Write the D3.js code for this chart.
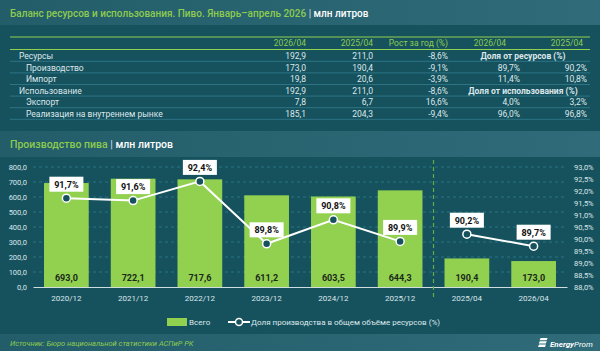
<!DOCTYPE html>
<html>
<head>
<meta charset="utf-8">
<script src="https://cdn.jsdelivr.net/npm/d3@7"></script>
<style>
  html, body { margin: 0; padding: 0; background: #16525e; }
  svg { display: block; font-family: Roboto, "Open Sans", sans-serif; }
</style>
</head>
<body>
<script>
// table data
const tableHeaders = ["2026/04", "2025/04", "Рост за год (%)", "2026/04", "2025/04"];
const rowLabels = ["Ресурсы", "Производство", "Импорт", "Использование", "Экспорт", "Реализация на внутреннем рынке"];
const rowIndent = [0, 1, 1, 0, 1, 1];
const col2026 = ["192,9", "173,0", "19,8", "192,9", "7,8", "185,1"];
const col2025 = ["211,0", "190,4", "20,6", "211,0", "6,7", "204,3"];
const colGrowth = ["-8,6%", "-9,1%", "-3,9%", "-8,6%", "16,6%", "-9,4%"];
const colShare2026 = [null, "89,7%", "11,4%", null, "4,0%", "96,0%"];
const colShare2025 = [null, "90,2%", "10,8%", null, "3,2%", "96,8%"];
const shareCaptions = ["Доля от ресурсов (%)", null, null, "Доля от использования (%)", null, null];

// chart data
const categories = ["2020/12", "2021/12", "2022/12", "2023/12", "2024/12", "2025/12", "2025/04", "2026/04"];
const totals = [693.0, 722.1, 717.6, 611.2, 603.5, 644.3, 190.4, 173.0];
const shares = [91.7, 91.6, 92.4, 89.8, 90.8, 89.9, 90.2, 89.7];
const leftTicks = [0, 100, 200, 300, 400, 500, 600, 700, 800];
const rightTicks = [88, 88.5, 89, 89.5, 90, 90.5, 91, 91.5, 92, 92.5, 93];
const lineSegments = [[0, 6], [6, 8]];

const W = 600, H = 351;
const bg = "#16525e";
const band = "#2a6572";
const green = "#92d050";
const titleGreen = "#8dcb4f";
const txt = "#dde8eb";

const ru = d3.formatLocale({ decimal: ",", thousands: " ", grouping: [3], currency: ["", ""] });
const f1 = ru.format(".1f");

const svg = d3.select("body").append("svg").attr("width", W).attr("height", H);

const defs = svg.append("defs");
const grad = defs.append("linearGradient").attr("id", "band").attr("x1", 0).attr("x2", 1);
grad.append("stop").attr("offset", 0).attr("stop-color", "#235d6a");
grad.append("stop").attr("offset", 1).attr("stop-color", "#2f6b79");

svg.append("rect").attr("width", W).attr("height", H).attr("fill", bg);

// header band
svg.append("rect").attr("width", W).attr("height", 25).attr("fill", "url(#band)");
const title = svg.append("text").attr("x", 10).attr("y", 16.5).attr("font-size", 10).attr("font-weight", 500);
title.append("tspan").attr("fill", titleGreen).text("Баланс ресурсов и использования. Пиво. Январь–апрель 2026");
title.append("tspan").attr("fill", "#c9d6da").text(" | ");
title.append("tspan").attr("fill", "#ffffff").text("млн литров");

// table
const tbl = svg.append("g");
const rowY = (i) => 57 + i * 11.6;
tbl.append("line").attr("x1", 10).attr("x2", 590).attr("y1", 37).attr("y2", 37).attr("stroke", green).attr("stroke-width", 1.2);
tbl.append("line").attr("x1", 10).attr("x2", 590).attr("y1", 49.5).attr("y2", 49.5).attr("stroke", green).attr("stroke-width", 1.2);
const colRight = [306, 373, 448, 506, 583];
tbl.selectAll("text.h").data(tableHeaders).join("text")
  .attr("class", "h")
  .attr("x", (d, i) => colRight[i]).attr("y", 46)
  .attr("text-anchor", "end").attr("font-size", 8.5).attr("fill", titleGreen).text((d) => d);

rowLabels.forEach((lab, i) => {
  const y = rowY(i);
  tbl.append("line").attr("x1", 10).attr("x2", 590).attr("y1", y + 4.3).attr("y2", y + 4.3)
    .attr("stroke", "#2d7585").attr("stroke-width", 1);
  tbl.append("text").attr("x", rowIndent[i] ? 26 : 19).attr("y", y + 2).attr("font-size", 8.5).attr("fill", txt).text(lab);
  tbl.append("text").attr("x", 306).attr("y", y + 2).attr("text-anchor", "end").attr("font-size", 8.5).attr("fill", txt).text(col2026[i]);
  tbl.append("text").attr("x", 373).attr("y", y + 2).attr("text-anchor", "end").attr("font-size", 8.5).attr("fill", txt).text(col2025[i]);
  tbl.append("text").attr("x", 448).attr("y", y + 2).attr("text-anchor", "end").attr("font-size", 8.5).attr("fill", txt).text(colGrowth[i]);
  if (shareCaptions[i]) {
    tbl.append("text").attr("x", 523).attr("y", y + 2).attr("text-anchor", "middle").attr("font-size", 8.5)
      .attr("font-weight", 700).attr("fill", txt).text(shareCaptions[i]);
  } else {
    tbl.append("text").attr("x", 520).attr("y", y + 2).attr("text-anchor", "end").attr("font-size", 8.5).attr("fill", txt).text(colShare2026[i]);
    tbl.append("text").attr("x", 587).attr("y", y + 2).attr("text-anchor", "end").attr("font-size", 8.5).attr("fill", txt).text(colShare2025[i]);
  }
});

// chart header band
svg.append("rect").attr("y", 131).attr("width", W).attr("height", 26).attr("fill", "url(#band)");
const sub = svg.append("text").attr("x", 10).attr("y", 148).attr("font-size", 10.5).attr("font-weight", 500);
sub.append("tspan").attr("fill", titleGreen).text("Производство пива");
sub.append("tspan").attr("fill", "#c9d6da").text(" | ");
sub.append("tspan").attr("fill", "#ffffff").text("млн литров");

// scales
const x = d3.scaleBand().domain(categories).range([33, 567]).paddingInner(0.33).paddingOuter(0.165);
const yL = d3.scaleLinear().domain([0, 800]).range([287, 167]);
const yR = d3.scaleLinear().domain([88, 93]).range([287, 167]);
const cx = (i) => x(categories[i]) + x.bandwidth() / 2;

// grid
svg.append("g").selectAll("line").data(leftTicks.slice(1)).join("line")
  .attr("x1", 33).attr("x2", 567).attr("y1", (d) => yL(d)).attr("y2", (d) => yL(d))
  .attr("stroke", "#2f7f90").attr("stroke-width", 0.8).attr("stroke-dasharray", "3,3");

// axes
const axL = svg.append("g").attr("transform", "translate(33,0)")
  .call(d3.axisLeft(yL).tickValues(leftTicks).tickSize(0).tickPadding(6).tickFormat(f1));
axL.select(".domain").remove();
axL.selectAll("text").attr("fill", txt).attr("font-size", 7.5).attr("font-family", "Roboto, sans-serif");

const axR = svg.append("g").attr("transform", "translate(567,0)")
  .call(d3.axisRight(yR).tickValues(rightTicks).tickSize(0).tickPadding(7).tickFormat((d) => f1(d) + "%"));
axR.select(".domain").remove();
axR.selectAll("text").attr("fill", txt).attr("font-size", 7.5).attr("font-family", "Roboto, sans-serif");

// bars
svg.append("g").selectAll("rect").data(totals).join("rect")
  .attr("x", (d, i) => x(categories[i])).attr("width", x.bandwidth())
  .attr("y", (d) => yL(d)).attr("height", (d) => yL(0) - yL(d))
  .attr("fill", green);

svg.append("g").selectAll("text").data(totals).join("text")
  .attr("x", (d, i) => cx(i)).attr("y", 281)
  .attr("text-anchor", "middle").attr("font-size", 9).attr("font-weight", 700).attr("fill", "#1a2a1a")
  .text((d) => f1(d));

const axB = svg.append("g").attr("transform", "translate(0,287)")
  .call(d3.axisBottom(x).tickSize(0).tickPadding(8));
axB.select(".domain").attr("stroke", "#cfdde1").attr("stroke-width", 1);
axB.selectAll("text").attr("fill", txt).attr("font-size", 8).attr("font-family", "Roboto, sans-serif");

// separator
svg.append("line").attr("x1", 433.5).attr("x2", 433.5).attr("y1", 160).attr("y2", 299)
  .attr("stroke", "#5fae4a").attr("stroke-width", 1.2).attr("stroke-dasharray", "4,3");

// lines
const line = d3.line().x((i) => cx(i)).y((i) => yR(shares[i]));
lineSegments.forEach(([a, b]) => {
  svg.append("path").datum(d3.range(a, b)).attr("d", line)
    .attr("fill", "none").attr("stroke", "#ffffff").attr("stroke-width", 2);
});
svg.append("g").selectAll("circle").data(shares).join("circle")
  .attr("cx", (d, i) => cx(i)).attr("cy", (d) => yR(d)).attr("r", 4)
  .attr("fill", bg).attr("stroke", "#ffffff").attr("stroke-width", 1.5);

const lbl = svg.append("g").selectAll("g").data(shares).join("g")
  .attr("transform", (d, i) => `translate(${cx(i)},${yR(d) - 14})`);
lbl.append("rect").attr("x", -17).attr("y", -7.5).attr("width", 34).attr("height", 15).attr("fill", "#ffffff");
lbl.append("text").attr("y", 3.3).attr("text-anchor", "middle").attr("font-size", 9).attr("font-weight", 700)
  .attr("fill", "#111").text((d) => f1(d) + "%");

// legend
const leg = svg.append("g");
leg.append("rect").attr("x", 167).attr("y", 318).attr("width", 20).attr("height", 8).attr("fill", green);
leg.append("text").attr("x", 189).attr("y", 325).attr("font-size", 8).attr("fill", txt).text("Всего");
leg.append("line").attr("x1", 228).attr("x2", 250).attr("y1", 322).attr("y2", 322).attr("stroke", "#fff").attr("stroke-width", 2);
leg.append("circle").attr("cx", 239).attr("cy", 322).attr("r", 3.5).attr("fill", bg).attr("stroke", "#fff").attr("stroke-width", 1.5);
leg.append("text").attr("x", 251).attr("y", 325).attr("font-size", 8).attr("fill", txt).text("Доля производства в общем объёме ресурсов (%)");

// footer
svg.append("rect").attr("y", 334).attr("width", W).attr("height", 17).attr("fill", "url(#band)");
svg.append("text").attr("x", 10).attr("y", 346).attr("font-size", 7.5).attr("font-style", "italic")
  .attr("fill", titleGreen).text("Источник: Бюро национальной статистики АСПиР РК");
const logo = svg.append("g").attr("transform", "translate(537,338)");
[0, 3.3, 6.6].forEach((dy, k) => {
  logo.append("path").attr("d", `M${2 + (2 - k) * 0.8},${dy} h7 l-1,2.3 h-7 z`).attr("fill", "#ffffff");
});
svg.append("text").attr("x", 550).attr("y", 346.5).attr("font-size", 8).attr("font-style", "italic")
  .attr("font-weight", 700).attr("fill", "#ffffff").text("Energy")
  .append("tspan").attr("font-weight", 400).text("Prom");
</script>
</body>
</html>
